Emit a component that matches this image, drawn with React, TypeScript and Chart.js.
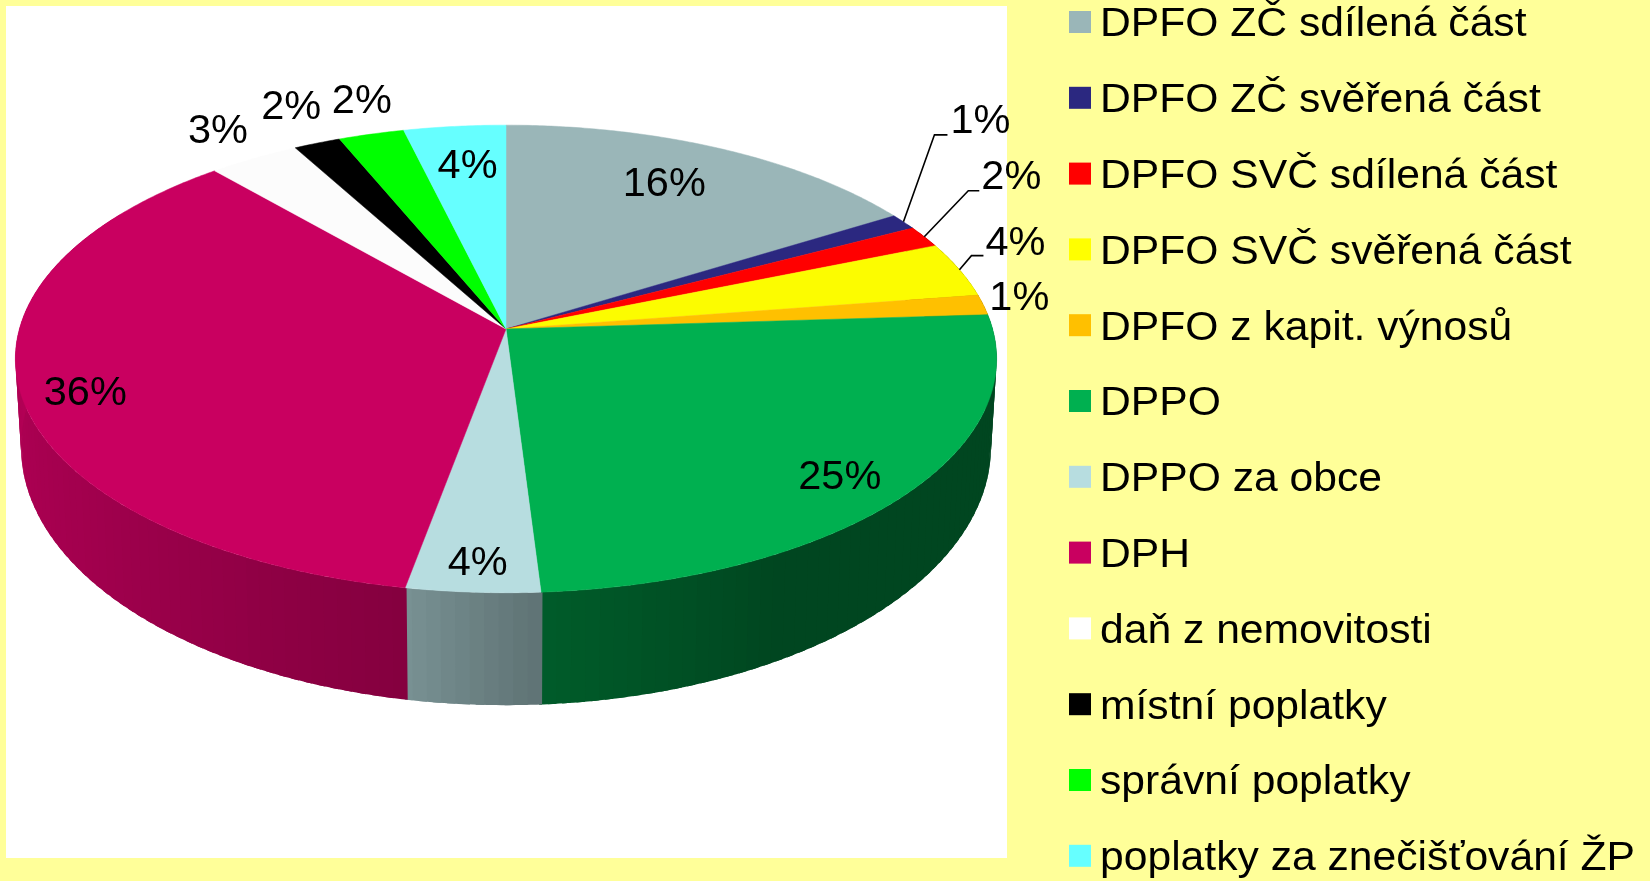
import React, { useEffect, useRef } from "react";
import { Chart, registerables } from "chart.js";

Chart.register(...registerables);

const categories = [
  "DPFO ZČ sdílená část",
  "DPFO ZČ svěřená část",
  "DPFO SVČ sdílená část",
  "DPFO SVČ svěřená část",
  "DPFO z kapit. výnosů",
  "DPPO",
  "DPPO za obce",
  "DPH",
  "daň z nemovitosti",
  "místní poplatky",
  "správní poplatky",
  "poplatky za znečišťování ŽP",
];
const shares = [16.2, 1.1, 1.5, 3.8, 1.4, 25, 3.9, 35.7, 3.4, 1.75, 2.45, 3.8];
const sliceColors = [
  "#9AB6B8", "#2B2880", "#FF0000", "#FCFC00", "#FFC000", "#00B050",
  "#B7DDE0", "#C90060", "#FCFCFC", "#000000", "#00FF00", "#66FFFF",
];
const legendColors = [
  "#9AB6B8", "#2B2880", "#FF0000", "#FFFF00", "#FFC000", "#00B050",
  "#B7DDE0", "#C90060", "#FFFFFF", "#000000", "#00FF00", "#66FFFF",
];

const FONT = '"Liberation Sans", Arial, sans-serif';
const DEG = Math.PI / 180;

// Perspective of the disc, relative to the radius Chart.js computes for the pie.
const K = -0.128;
const TOP_A = 1.479;
const TOP_B = 0.699;
const BOT_A = 1.462;
const BOT_B = 0.772;
const BOT_DY = 0.258;

// Label placement relative to the rim point at the middle of each slice.
const labelShift: number[][] = [
  [-55, 36], [77, -100], [87, -59], [56, -26], [36, -6], [-65, -18],
  [5, -29], [65, 2], [-36, -27], [-26, -36], [-9.5, -33], [13, 40],
];
const leaderElbow: (number[] | null)[] = [
  null, [31, -87, 44, -87], [44, -46, 55, -46], [12, -14, 24, -14], null, null,
  null, null, null, null, null, null,
];

function sideShade(deg: number) {
  const stops = [[0, 0.4], [150, 0.4], [177, 0.53], [190, 0.66], [230, 0.8], [270, 0.89], [360, 0.9]];
  for (let i = 1; i < stops.length; i++) {
    if (deg <= stops[i][0]) {
      const t = (deg - stops[i - 1][0]) / (stops[i][0] - stops[i - 1][0]);
      return stops[i - 1][1] + t * (stops[i][1] - stops[i - 1][1]);
    }
  }
  return 0.9;
}

function shadeHex(hex: string, f: number) {
  const n = parseInt(hex.slice(1), 16);
  const c = [(n >> 16) & 255, (n >> 8) & 255, n & 255].map((v) => Math.round(v * f));
  return `rgb(${c[0]},${c[1]},${c[2]})`;
}

function rimPoint(arc: any, angle: number, bottom = false) {
  const th = angle + Math.PI / 2;
  const u = Math.sin(th);
  const v = -Math.cos(th);
  const w = 1 + K * v;
  const R = arc.outerRadius;
  if (bottom) {
    return { x: arc.x + (R * BOT_A * u) / w, y: arc.y + R * BOT_DY + (R * BOT_B * v) / w };
  }
  return { x: arc.x + (R * TOP_A * u) / w, y: arc.y + (R * TOP_B * v) / w };
}

const pie3d = {
  id: "pie3d",
  beforeDraw(chart: any) {
    const { ctx, width, height } = chart;
    ctx.save();
    ctx.fillStyle = "#FFFF99";
    ctx.fillRect(0, 0, width, height);
    ctx.fillStyle = "#FFFFFF";
    ctx.fillRect(6, 6, 1001, 852);
    ctx.restore();
  },
  beforeDatasetDraw(chart: any, args: any) {
    const { ctx } = chart;
    const arcs = args.meta.data;
    const colors = chart.data.datasets[0].backgroundColor;
    ctx.save();
    // Outer wall: overlapping strips that darken towards the front right.
    // Each strip runs past its end, so the next one covers the shared edge
    // and no seams show through; neighbouring slices overlap slightly as well.
    arcs.forEach((arc: any, i: number) => {
      const step = 1.5 * DEG;
      const from = arc.startAngle - 0.15 * DEG;
      const to = arc.endAngle + 0.15 * DEG;
      for (let a = from; a < to - 1e-6; a += step) {
        const b = Math.min(a + step * 1.6, to);
        const deg = ((a + Math.PI / 2) / DEG + 360) % 360;
        if (deg < 60 || deg > 300) continue;
        ctx.beginPath();
        const n = 4;
        for (let s = 0; s <= n; s++) {
          const p = rimPoint(arc, a + ((b - a) * s) / n);
          if (s === 0) ctx.moveTo(p.x, p.y);
          else ctx.lineTo(p.x, p.y);
        }
        for (let s = n; s >= 0; s--) {
          const q = rimPoint(arc, a + ((b - a) * s) / n, true);
          ctx.lineTo(q.x, q.y);
        }
        ctx.closePath();
        ctx.fillStyle = shadeHex(colors[i], sideShade(deg));
        ctx.fill();
      }
    });
    // Top surface.
    arcs.forEach((arc: any, i: number) => {
      ctx.beginPath();
      ctx.moveTo(arc.x, arc.y);
      const n = Math.max(2, Math.ceil((arc.endAngle - arc.startAngle) / (0.5 * DEG)));
      for (let s = 0; s <= n; s++) {
        const p = rimPoint(arc, arc.startAngle + ((arc.endAngle - arc.startAngle) * s) / n);
        ctx.lineTo(p.x, p.y);
      }
      ctx.closePath();
      ctx.fillStyle = colors[i];
      ctx.strokeStyle = colors[i];
      ctx.lineWidth = 0.5;
      ctx.fill();
      ctx.stroke();
    });
    ctx.restore();
    return false;
  },
  afterDatasetsDraw(chart: any) {
    const { ctx } = chart;
    const arcs = chart.getDatasetMeta(0).data;
    const values = chart.data.datasets[0].data as number[];
    const total = values.reduce((s, v) => s + v, 0);
    ctx.save();
    ctx.fillStyle = "#000";
    ctx.strokeStyle = "#000";
    ctx.lineWidth = 1.6;
    ctx.font = `41.5px ${FONT}`;
    ctx.textAlign = "center";
    ctx.textBaseline = "middle";
    arcs.forEach((arc: any, i: number) => {
      const rim = rimPoint(arc, (arc.startAngle + arc.endAngle) / 2);
      const elbow = leaderElbow[i];
      if (elbow) {
        ctx.beginPath();
        ctx.moveTo(rim.x, rim.y);
        ctx.lineTo(rim.x + elbow[0], rim.y + elbow[1]);
        ctx.lineTo(rim.x + elbow[2], rim.y + elbow[3]);
        ctx.stroke();
      }
      const text = `${Math.round((values[i] / total) * 100)}%`;
      ctx.fillText(text, rim.x + labelShift[i][0], rim.y + labelShift[i][1]);
    });

    // Legend, spaced down the right-hand band.
    ctx.textAlign = "left";
    ctx.font = `41px ${FONT}`;
    chart.data.labels.forEach((label: string, i: number) => {
      const cy = 22 + i * 75.8;
      ctx.fillStyle = legendColors[i];
      ctx.fillRect(1069, cy - 11, 22, 22);
      ctx.fillStyle = "#000";
      ctx.save();
      ctx.translate(1100, cy + 3);
      ctx.scale(1.04, 1);
      ctx.fillText(label, 0, 0);
      ctx.restore();
    });
    ctx.restore();
  },
};

export default function App() {
  const ref = useRef<HTMLCanvasElement>(null);
  useEffect(() => {
    document.body.style.margin = "0";
    const chart = new Chart(ref.current as HTMLCanvasElement, {
      type: "pie",
      data: {
        labels: categories,
        datasets: [{ data: shares, backgroundColor: sliceColors, borderWidth: 0 }],
      },
      options: {
        responsive: false,
        animation: false,
        layout: { padding: { left: 0, top: 0, right: 638, bottom: 223 } },
        plugins: { legend: { display: false }, tooltip: { enabled: false }, title: { display: false } },
      },
      plugins: [pie3d],
    } as any);
    return () => chart.destroy();
  }, []);
  return <canvas ref={ref} width={1650} height={881} style={{ display: "block" }} />;
}
